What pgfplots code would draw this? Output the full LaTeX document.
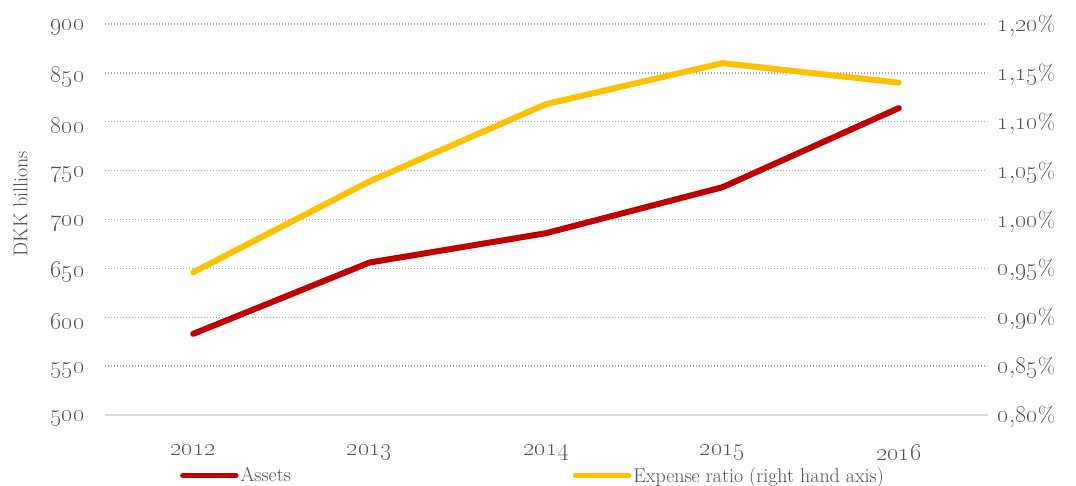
\documentclass[border=0pt]{standalone}
\usepackage{pgfplots}
\pgfplotsset{compat=1.18}
\definecolor{txt}{HTML}{4D4D4D}
\definecolor{rd}{HTML}{C00000}
\definecolor{yl}{HTML}{FFC000}
\definecolor{grd}{HTML}{A6A6A6}
\definecolor{axl}{HTML}{D9D9D9}
\newcommand{\os}[1]{\oldstylenums{#1}}
\newcommand{\pc}{{\fontsize{22}{24}\selectfont\%}}
\begin{document}
\begin{tikzpicture}[font=\fontsize{20}{24}\selectfont]
\useasboundingbox (-105bp,-71bp) rectangle (971bp,415bp);
\begin{axis}[
  at={(0,0)}, anchor=south west,
  scale only axis, width=882bp, height=391bp,
  xmin=-0.5, xmax=4.5, ymin=500, ymax=900,
  axis y line*=left, axis x line*=bottom,
  y axis line style={draw=none},
  x axis line style={draw=axl, line width=1.5bp, -},
  xtick={0,1,2,3,4},
  xticklabels={\os{2012},\os{2013},\os{2014},\os{2015},\os{2016}},
  ytick={500,550,600,650,700,750,800,850,900},
  yticklabels={\os{500},\os{550},\os{600},\os{650},\os{700},\os{750},\os{800},\os{850},\os{900}},
  major tick length=0,
  tick label style={color=txt, font=\fontsize{27}{30}\selectfont},
  yticklabel style={xshift=-17bp, yshift=-4bp},
  xticklabel style={yshift=-26bp},
  ymajorgrids, grid style={grd, line width=1.3bp, dash pattern=on 1.3bp off 1.7bp},
  ylabel={DKK billions},
  ylabel style={color=txt, at={(axis description cs:0,0.5)}, anchor=south, yshift=74bp, xshift=16bp},
  legend columns=2,
  legend style={at={(0.5,0)}, anchor=north, xshift=-13bp, yshift=-50bp, draw=none, fill=none,
    text=txt, inner sep=0pt, /tikz/every even column/.append style={column sep=280bp}},
  legend cell align=left,
  legend image code/.code={\draw[#1, line width=5.5bp, line cap=round] (0bp,0bp) -- (53bp,0bp);},
]
\addplot[rd, line width=6bp, line cap=round, line join=round] coordinates {
  (0,583) (1,656) (2,686) (3,733) (4,814)};
\addlegendentry{Assets}
\addlegendimage{yl}
\addlegendentry{Expense ratio (right hand axis)}
\end{axis}
\begin{axis}[
  at={(0,0)}, anchor=south west,
  scale only axis, width=882bp, height=391bp,
  xmin=-0.5, xmax=4.5, ymin=0.80, ymax=1.20,
  axis y line*=right, axis x line=none,
  y axis line style={draw=none},
  ytick={0.80,0.85,0.90,0.95,1.00,1.05,1.10,1.15,1.20},
  yticklabels={{\os{0},\os{80}\pc},{\os{0},\os{85}\pc},{\os{0},\os{90}\pc},{\os{0},\os{95}\pc},{\os{1},\os{00}\pc},{\os{1},\os{05}\pc},{\os{1},\os{10}\pc},{\os{1},\os{15}\pc},{\os{1},\os{20}\pc}},
  major tick length=0,
  tick label style={color=txt, font=\fontsize{27}{30}\selectfont},
  yticklabel style={xshift=7bp, yshift=-2bp},
]
\addplot[yl, line width=6bp, line cap=round, line join=round] coordinates {
  (0,0.946) (1,1.039) (2,1.118) (3,1.160) (4,1.140)};
\end{axis}
\end{tikzpicture}
\end{document}
